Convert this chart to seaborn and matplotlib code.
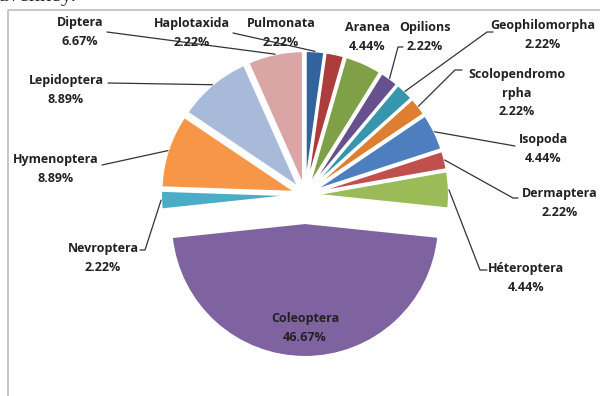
#!/usr/bin/env python3

import numpy as np
import matplotlib
matplotlib.use("Agg")
import seaborn as sns
from matplotlib import pyplot as plt

orders = ["Haplotaxida", "Pulmonata", "Aranea", "Opilions", "Geophilomorpha",
          "Scolopendromorpha", "Isopoda", "Dermaptera", "Héteroptera", "Coleoptera",
          "Nevroptera", "Hymenoptera", "Lepidoptera", "Diptera"]
shares = [2.22, 2.22, 4.44, 2.22, 2.22, 2.22, 4.44, 2.22, 4.44, 46.67, 2.22, 8.89, 8.89, 6.67]
label_names = ["Haplotaxida", "Pulmonata", "Aranea", "Opilions", "Geophilomorpha",
               "Scolopendromo\nrpha", "Isopoda", "Dermaptera", "Héteroptera", "Coleoptera",
               "Nevroptera", "Hymenoptera", "Lepidoptera", "Diptera"]
slice_colors = ["#33639C", "#AD3D3A", "#7FA046", "#66508D", "#3796AE", "#DE7E31",
                "#4D7FBF", "#C0504D", "#9BBB59", "#7F63A1", "#4BACC6", "#F79646",
                "#A8BAD9", "#D9A5A5"]

# layout (pixel coords): label block centers and leader line hooks (x_start, x_end, y)
label_pos = [(192, 33), (281, 33), (367, 37), (425, 37), (543, 35), (517, 93),
             (543, 149), (560, 203), (526, 278), (305, 328), (103, 258),
             (56, 169), (66, 90), (80, 32)]
hooks = [(233, 233, 33), None, None, (403, 398, 47), (493, 487, 32), (462, 455, 70),
         (515, 515, 146), (518, 513, 198), (487, 480, 270), None, (140, 145, 250),
         (102, 102, 165), (108, 108, 83), (107, 107, 32)]


def plot():
    sns.set_style("white")
    plt.rcParams["font.family"] = ["Open Sans", "DejaVu Sans"]

    fig = plt.figure(figsize=(6, 3.96), dpi=100)
    ax = fig.add_axes([0, 0, 1, 1])

    # explode offsets are in data units (pixels here)
    explode = [28 if o == "Coleoptera" else 10 for o in orders]
    wedges, _ = ax.pie(shares, colors=slice_colors, radius=134, center=(305, 195),
                       startangle=-90, counterclock=True, explode=explode,
                       wedgeprops=dict(edgecolor="white", linewidth=1.5))
    ax.set_xlim(0, 600)
    ax.set_ylim(396, 0)
    ax.set_aspect("equal")
    ax.axis("off")

    for w, name, share, (lx, ly), hook in zip(wedges, label_names, shares, label_pos, hooks):
        ax.text(lx, ly, f"{name}\n{share:.2f}%", ha="center", va="center",
                fontsize=9, fontweight="bold", linespacing=1.55, color="#222222")
        if hook is None:
            continue
        mid = np.deg2rad((w.theta1 + w.theta2) / 2)
        ax_, ay_ = w.center[0] + w.r * np.cos(mid), w.center[1] + w.r * np.sin(mid)
        x0, x1, y = hook
        ax.plot([x0, x1, ax_], [y, y, ay_], color="#333333", lw=0.9)

    # chart frame and the clipped text above it
    ax.plot([8, 8, 600], [396, 10, 10], color="#BDBDBD", lw=1.2, clip_on=False)
    ax.text(-2, 1, "avenkey.", fontsize=16, family="Liberation Serif", va="baseline")

    plt.savefig("out.png", dpi=100)
    plt.close()


def main():
    plot()


if __name__ == '__main__':
    main()
